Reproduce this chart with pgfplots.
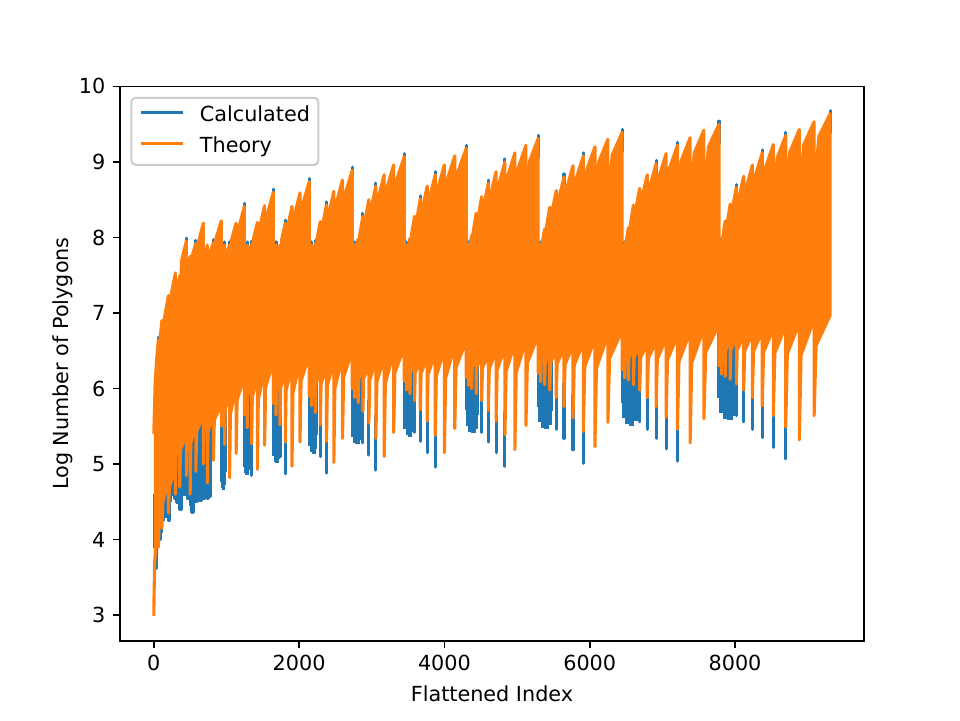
\documentclass[border=0pt]{standalone}
\usepackage{fontspec}
\setmainfont{DejaVu Sans}
\usepackage{pgfplots}
\pgfplotsset{compat=1.18}
\definecolor{mplblue}{HTML}{1F77B4}
\definecolor{mplorange}{HTML}{FF7F0E}
\begin{document}
\begin{tikzpicture}
\useasboundingbox (-0.8in,-0.528in) rectangle (5.6in,4.272in);
\begin{axis}[
  at={(0,0)}, anchor=south west,
  width=4.96in, height=3.696in, scale only axis,
  xmin=-465.5, xmax=9775.5, ymin=2.66, ymax=10.0,
  xtick={0,2000,4000,6000,8000}, ytick={3,4,5,6,7,8,9,10},
  scaled x ticks=false,
  /pgf/number format/1000 sep={},
  /pgf/number format/assume math mode=true,
  tick pos=left, tick align=outside, major tick length=3.5pt,
  tick style={black, line width=0.8pt},
  axis line style={line width=0.8pt},
  ticklabel style={font=\fontsize{10}{12}\selectfont},
  label style={font=\fontsize{10}{12}\selectfont},
  xlabel={Flattened Index}, ylabel={Log Number of Polygons},
  ylabel shift=-3.7pt,
  unbounded coords=jump,
  legend cell align=left,
  legend style={at={(0,1)}, anchor=north west, xshift=5pt, yshift=-5pt,
    draw=black!20, line width=1pt, rounded corners=2pt, fill=white,
    fill opacity=0.8, text opacity=1, inner xsep=4pt, inner ysep=3.9pt,
    row sep=5.5pt, column sep=7.5pt,
    font=\fontsize{10}{12}\selectfont,
    nodes={inner sep=0pt, text height=7.5pt, text depth=2pt}},
  legend image code/.code={\draw[#1, line width=1.5pt] (0pt,1.5pt) -- (20pt,1.5pt);},
]

% Calculated: lower tail of the first blocks
\addplot[forget plot, const plot, fill=mplblue, draw=mplblue, line width=1.5pt, line join=round] coordinates {
(15,4.6) (15,3.9) (22,3.62) (35,3.65) (42,3.95) (60,4.0) (87,4.09) (100,4.25) (132,4.36) (150,4.3)
(201,4.26) (210,4.5) (224,4.62) (260,4.6) (290,4.55) (315,4.49) (352,4.40) (380,4.6) (430,4.66)
(460,4.55) (500,4.45) (521,4.36) (540,4.5) (600,4.52) (659,4.55) (700,4.7) (733,4.55) (751,4.57)
(780,4.75) (780,6.0) (500,5.8) (300,5.6) (150,5.3) (60,5.0)
};

% Calculated: dense runs at the start of each block
\addplot[forget plot, const plot, fill=mplblue, draw=mplblue, line width=1.5pt] coordinates {
(930,5.92) (930,4.98) (934,4.78) (940,4.90) (945,4.70) (951,4.85) (958,4.68) (965,4.82) (971,4.74) (976,4.92) (981,5.92)};
\addplot[forget plot, const plot, fill=mplblue, draw=mplblue, line width=1.5pt] coordinates {
(1246,6.12) (1246,5.18) (1251,4.98) (1259,5.10) (1265,4.90) (1273,5.05) (1281,4.88) (1290,5.02) (1297,4.94) (1304,5.12) (1310,6.12)};
\addplot[forget plot, const plot, fill=mplblue, draw=mplblue, line width=1.5pt] coordinates {
(1645,6.22) (1645,5.33) (1651,5.13) (1661,5.25) (1669,5.05) (1678,5.20) (1688,5.03) (1699,5.17) (1708,5.09) (1716,5.27) (1724,6.22)};
\addplot[forget plot, const plot, fill=mplblue, draw=mplblue, line width=1.5pt] coordinates {
(2140,6.27) (2140,5.46) (2148,5.26) (2159,5.38) (2169,5.18) (2180,5.33) (2192,5.16) (2205,5.30) (2216,5.22) (2226,5.40) (2235,6.27)};
\addplot[forget plot, const plot, fill=mplblue, draw=mplblue, line width=1.5pt] coordinates {
(2732,6.32) (2732,5.58) (2741,5.38) (2755,5.50) (2766,5.30) (2780,5.45) (2795,5.28) (2810,5.42) (2823,5.34) (2835,5.52) (2846,6.32)};
\addplot[forget plot, const plot, fill=mplblue, draw=mplblue, line width=1.5pt] coordinates {
(3447,6.40) (3447,5.68) (3458,5.48) (3474,5.60) (3488,5.40) (3504,5.55) (3522,5.38) (3539,5.52) (3556,5.44) (3569,5.62) (3583,6.40)};
\addplot[forget plot, const plot, fill=mplblue, draw=mplblue, line width=1.5pt] coordinates {
(4300,6.47) (4300,5.73) (4313,5.53) (4332,5.65) (4347,5.45) (4366,5.60) (4387,5.43) (4407,5.57) (4426,5.49) (4442,5.67) (4458,6.47)};
\addplot[forget plot, const plot, fill=mplblue, draw=mplblue, line width=1.5pt] coordinates {
(5290,6.54) (5290,5.78) (5305,5.58) (5327,5.70) (5346,5.50) (5368,5.65) (5392,5.48) (5416,5.62) (5438,5.54) (5457,5.72) (5475,6.54)};
\addplot[forget plot, const plot, fill=mplblue, draw=mplblue, line width=1.5pt] coordinates {
(6446,6.62) (6446,5.83) (6463,5.63) (6489,5.75) (6510,5.55) (6535,5.70) (6563,5.53) (6591,5.67) (6616,5.59) (6638,5.77) (6659,6.62)};
\addplot[forget plot, const plot, fill=mplblue, draw=mplblue, line width=1.5pt] coordinates {
(7780,6.74) (7780,5.90) (7800,5.70) (7829,5.82) (7854,5.62) (7883,5.77) (7915,5.60) (7947,5.74) (7976,5.66) (8001,5.84) (8025,6.74)};

% Calculated: deeper minima and peak tips
\addplot[forget plot, mplblue, line width=1.5pt, line cap=round] coordinates {
(975,5.56) (975,4.84) (975,nan)
(1286,5.78) (1286,5.06) (1286,nan) (1346,5.57) (1346,4.85) (1346,nan)
(1682,5.95) (1682,5.23) (1682,nan) (1737,5.82) (1737,5.10) (1737,nan) (1810,5.59) (1810,4.87) (1810,nan)
(2174,6.07) (2174,5.35) (2174,nan) (2225,5.98) (2225,5.26) (2225,nan) (2292,5.82) (2292,5.10) (2292,nan) (2377,5.60) (2377,4.88) (2377,nan)
(2765,6.18) (2765,5.46) (2765,nan) (2813,6.11) (2813,5.39) (2813,nan) (2878,6.0) (2878,5.28) (2878,nan) (2960,5.84) (2960,5.12) (2960,nan) (3057,5.64) (3057,4.92) (3057,nan)
(3479,6.28) (3479,5.56) (3479,nan) (3526,6.23) (3526,5.51) (3526,nan) (3589,6.14) (3589,5.42) (3589,nan) (3668,6.02) (3668,5.30) (3668,nan) (3763,5.87) (3763,5.15) (3763,nan) (3874,5.68) (3874,4.96) (3874,nan)
(4330,6.34) (4330,5.62) (4330,nan) (4376,6.3) (4376,5.58) (4376,nan) (4437,6.23) (4437,5.51) (4437,nan) (4513,6.14) (4513,5.42) (4513,nan) (4605,6.01) (4605,5.29) (4605,nan) (4711,5.87) (4711,5.15) (4711,nan) (4833,5.69) (4833,4.97) (4833,nan)
(5326,6.39) (5326,5.67) (5326,nan) (5379,6.35) (5379,5.63) (5379,nan) (5450,6.28) (5450,5.56) (5450,nan) (5539,6.18) (5539,5.46) (5539,nan) (5646,6.06) (5646,5.34) (5646,nan) (5770,5.91) (5770,5.19) (5770,nan) (5913,5.73) (5913,5.01) (5913,nan)
(6481,6.44) (6481,5.72) (6481,nan) (6533,6.41) (6533,5.69) (6533,nan) (6602,6.35) (6602,5.63) (6602,nan) (6689,6.28) (6689,5.56) (6689,nan) (6792,6.18) (6792,5.46) (6792,nan) (6914,6.06) (6914,5.34) (6914,nan) (7052,5.92) (7052,5.20) (7052,nan) (7208,5.76) (7208,5.04) (7208,nan)
(7814,6.49) (7814,5.77) (7814,nan) (7865,6.46) (7865,5.74) (7865,nan) (7933,6.42) (7933,5.70) (7933,nan) (8018,6.36) (8018,5.64) (8018,nan) (8120,6.28) (8120,5.56) (8120,nan) (8239,6.18) (8239,5.46) (8239,nan) (8375,6.07) (8375,5.35) (8375,nan) (8528,5.94) (8528,5.22) (8528,nan) (8698,5.79) (8698,5.07) (8698,nan)
(63,6.39) (63,6.68) (63,nan) (448,7.70) (448,7.99) (448,nan) (578,7.67) (578,7.96) (578,nan) (820,7.68) (820,7.97) (820,nan)
(975,7.65) (975,7.94) (975,nan) (1043,7.65) (1043,7.94) (1043,nan) (1246,8.16) (1246,8.45) (1246,nan)
(1286,7.65) (1286,7.94) (1286,nan) (1346,7.66) (1346,7.95) (1346,nan) (1645,8.35) (1645,8.64) (1645,nan)
(1682,7.65) (1682,7.94) (1682,nan) (1810,7.94) (1810,8.23) (1810,nan) (2140,8.49) (2140,8.78) (2140,nan)
(2174,7.65) (2174,7.94) (2174,nan) (2225,7.67) (2225,7.96) (2225,nan) (2377,8.18) (2377,8.47) (2377,nan) (2732,8.64) (2732,8.93) (2732,nan)
(2765,7.65) (2765,7.94) (2765,nan) (2878,8.03) (2878,8.32) (2878,nan) (3057,8.43) (3057,8.72) (3057,nan) (3447,8.82) (3447,9.11) (3447,nan)
(3479,7.65) (3479,7.94) (3479,nan) (3668,8.26) (3668,8.55) (3668,nan) (3874,8.58) (3874,8.87) (3874,nan) (4300,8.93) (4300,9.22) (4300,nan)
(4330,7.65) (4330,7.94) (4330,nan) (4605,8.47) (4605,8.76) (4605,nan) (4833,8.75) (4833,9.04) (4833,nan) (5290,9.06) (5290,9.35) (5290,nan)
(5326,7.65) (5326,7.94) (5326,nan) (5646,8.55) (5646,8.84) (5646,nan) (5913,8.83) (5913,9.12) (5913,nan) (6446,9.14) (6446,9.43) (6446,nan)
(6481,7.65) (6481,7.94) (6481,nan) (6914,8.73) (6914,9.02) (6914,nan) (7208,8.97) (7208,9.26) (7208,nan) (7780,9.25) (7780,9.54) (7780,nan)
(7814,7.70) (7814,7.99) (7814,nan) (8018,8.41) (8018,8.70) (8018,nan) (8375,8.87) (8375,9.16) (8375,nan) (8698,9.10) (8698,9.39) (8698,nan) (9310,9.39) (9310,9.68)
};

% Theory: envelope of the oscillating series (upper edge left to right, lower edge right to left)
\addplot[forget plot, fill=mplorange, draw=mplorange, line width=1.5pt, line join=round] coordinates {
(0,5.4) (18,6.07) (40,6.4) (63,6.64) (63,6.05) (80,6.6) (111,6.9) (111,6.35) (140,6.9) (201,7.23) (201,6.7) (230,7.2) (297,7.53)
(297,7.0) (315,7.33) (357,7.49) (357,7.15) (384,7.7) (448,7.95)
(448,7.2) (464,7.58) (500,7.75) (500,7.3) (523,7.74) (578,7.92) (578,7.3) (609,7.92) (682,8.19)
(682,7.25) (698,7.71) (737,7.9) (737,7.4) (762,7.77) (820,7.93) (820,7.45) (853,7.98) (930,8.22)
(930,7.4) (943,7.75) (975,7.9) (975,7.45) (995,7.77) (1043,7.9) (1043,7.45) (1070,7.97) (1133,8.19) (1133,7.45) (1167,8.12) (1246,8.41)
(1246,7.4) (1258,7.75) (1286,7.9) (1286,7.45) (1304,7.77) (1346,7.91) (1346,7.45) (1370,7.98) (1426,8.20) (1426,7.45) (1456,8.13) (1525,8.42) (1525,7.6) (1561,8.3) (1645,8.60)
(1645,7.4) (1656,7.75) (1682,7.9) (1682,7.45) (1698,7.77) (1737,7.90) (1737,7.45) (1759,7.97) (1810,8.19) (1810,7.45) (1838,8.12) (1902,8.41) (1902,7.59) (1935,8.29) (2012,8.59) (2012,7.74) (2050,8.44) (2140,8.74)
(2140,7.4) (2150,7.75) (2174,7.9) (2174,7.45) (2189,7.78) (2225,7.92) (2225,7.45) (2245,7.98) (2292,8.21) (2292,7.45) (2318,8.14) (2377,8.43) (2377,7.61) (2407,8.31) (2478,8.61) (2478,7.76) (2514,8.46) (2597,8.76) (2597,7.89) (2638,8.59) (2732,8.89)
(2732,7.5) (2742,7.78) (2765,7.9) (2765,7.45) (2779,7.82) (2813,7.98) (2813,7.45) (2833,8.03) (2878,8.28) (2878,7.50) (2903,8.20) (2960,8.50) (2960,7.68) (2989,8.38) (3057,8.68) (3057,7.83) (3091,8.53) (3171,8.83) (3171,7.96) (3210,8.66) (3301,8.96) (3301,8.07) (3345,8.77) (3447,9.07)
(3447,7.5) (3457,7.78) (3479,7.9) (3479,7.45) (3493,7.83) (3526,7.99) (3526,7.45) (3545,8.03) (3589,8.28) (3589,7.51) (3613,8.21) (3668,8.51) (3668,7.68) (3697,8.38) (3763,8.68) (3763,7.83) (3796,8.53) (3874,8.83) (3874,7.96) (3912,8.66) (4000,8.96) (4000,8.08) (4043,8.78) (4142,9.08) (4142,8.18) (4189,8.88) (4300,9.18)
(4300,7.5) (4309,7.78) (4330,7.9) (4330,7.45) (4344,7.86) (4376,8.03) (4376,7.45) (4394,8.06) (4437,8.32) (4437,7.54) (4460,8.24) (4513,8.54) (4513,7.72) (4541,8.42) (4605,8.72) (4605,7.87) (4637,8.57) (4711,8.87) (4711,8.0) (4748,8.7) (4833,9.0) (4833,8.12) (4874,8.82) (4970,9.12) (4970,8.22) (5016,8.92) (5122,9.22) (5122,8.31) (5172,9.01) (5290,9.31)
(5290,7.55) (5301,7.8) (5326,7.9) (5326,7.45) (5342,7.91) (5379,8.11) (5379,7.45) (5400,8.12) (5450,8.40) (5450,7.62) (5477,8.32) (5539,8.62) (5539,7.80) (5571,8.50) (5646,8.80) (5646,7.95) (5683,8.65) (5770,8.95) (5770,8.08) (5813,8.78) (5913,9.08) (5913,8.20) (5961,8.90) (6072,9.20) (6072,8.30) (6125,9.00) (6250,9.30) (6250,8.39) (6309,9.09) (6446,9.39)
(6446,7.55) (6457,7.8) (6481,7.9) (6481,7.45) (6497,7.93) (6533,8.13) (6533,7.45) (6554,8.14) (6602,8.43) (6602,7.65) (6628,8.35) (6689,8.65) (6689,7.83) (6720,8.53) (6792,8.83) (6792,7.98) (6829,8.68) (6914,8.98) (6914,8.11) (6955,8.81) (7052,9.11) (7052,8.22) (7099,8.92) (7208,9.22) (7208,8.32) (7260,9.02) (7382,9.32) (7382,8.42) (7439,9.12) (7572,9.42) (7572,8.50) (7634,9.20) (7780,9.50)
(7780,7.6) (7790,7.83) (7814,7.95) (7814,7.45) (7829,7.99) (7865,8.22) (7865,7.45) (7885,8.14) (7933,8.44) (7933,7.66) (7959,8.36) (8018,8.66) (8018,7.81) (8049,8.51) (8120,8.81) (8120,7.96) (8156,8.66) (8239,8.96) (8239,8.12) (8280,8.82) (8375,9.12) (8375,8.23) (8421,8.93) (8528,9.23) (8528,8.35) (8579,9.05) (8698,9.35) (8698,8.43) (8754,9.13) (8885,9.43) (8885,8.53) (8946,9.23) (9089,9.53) (9089,8.64) (9155,9.34) (9310,9.64)
(9310,6.97) (9116,6.57) (9089,5.64) (9089,6.92) (8909,6.44) (8885,5.32) (8885,6.87) (8720,6.46) (8698,5.49) (8698,6.83) (8548,6.47) (8528,5.64) (8528,6.79) (8393,6.48) (8375,5.77) (8375,6.76) (8255,6.49) (8239,5.88) (8239,6.73) (8134,6.50) (8120,5.98) (8120,6.70) (8030,6.51) (8018,6.06) (8018,6.67) (7943,6.51) (7933,6.12) (7933,6.66) (7873,6.51) (7865,6.16) (7865,6.64) (7820,6.50) (7814,6.19) (7814,6.63) (7784,6.53) (7780,6.3)
(7780,6.85) (7597,6.48) (7572,5.60) (7572,6.80) (7405,6.34) (7382,5.28) (7382,6.75) (7229,6.36) (7208,5.46) (7208,6.70) (7071,6.38) (7052,5.62) (7052,6.66) (6931,6.39) (6914,5.76) (6914,6.62) (6807,6.40) (6792,5.88) (6792,6.59) (6701,6.41) (6689,5.98) (6689,6.56) (6612,6.41) (6602,6.05) (6602,6.54) (6541,6.41) (6533,6.11) (6533,6.52) (6487,6.41) (6481,6.14) (6481,6.51) (6450,6.43) (6446,6.25)
(6446,6.77) (6274,6.40) (6250,5.55) (6250,6.71) (6093,6.27) (6072,5.23) (6072,6.66) (5932,6.29) (5913,5.43) (5913,6.61) (5787,6.31) (5770,5.61) (5770,6.57) (5661,6.32) (5646,5.76) (5646,6.53) (5552,6.33) (5539,5.88) (5539,6.50) (5461,6.34) (5450,5.98) (5450,6.47) (5388,6.34) (5379,6.05) (5379,6.45) (5332,6.34) (5326,6.09) (5326,6.43) (5294,6.36) (5290,6.2)
(5290,6.70) (5142,6.34) (5122,5.51) (5122,6.64) (4988,6.21) (4970,5.19) (4970,6.59) (4849,6.23) (4833,5.39) (4833,6.54) (4726,6.25) (4711,5.57) (4711,6.50) (4618,6.26) (4605,5.71) (4605,6.46) (4524,6.27) (4513,5.84) (4513,6.43) (4446,6.28) (4437,5.93) (4437,6.40) (4383,6.28) (4376,6.0) (4376,6.38) (4336,6.28) (4330,6.04) (4330,6.36) (4304,6.30) (4300,6.15)
(4300,6.63) (4161,6.28) (4142,5.47) (4142,6.57) (4017,6.14) (4000,5.15) (4000,6.51) (3889,6.17) (3874,5.38) (3874,6.46) (3776,6.19) (3763,5.57) (3763,6.41) (3679,6.20) (3668,5.72) (3668,6.37) (3598,6.21) (3589,5.84) (3589,6.34) (3534,6.22) (3526,5.93) (3526,6.31) (3485,6.21) (3479,5.98) (3479,6.29) (3451,6.23) (3447,6.1)
(3447,6.55) (3319,6.21) (3301,5.42) (3301,6.48) (3187,6.07) (3171,5.10) (3171,6.41) (3071,6.09) (3057,5.34) (3057,6.36) (2972,6.11) (2960,5.54) (2960,6.31) (2888,6.13) (2878,5.70) (2878,6.27) (2821,6.13) (2813,5.81) (2813,6.24) (2771,6.13) (2765,5.88) (2765,6.22) (2736,6.15) (2732,6.0)
(2732,6.50) (2613,6.15) (2597,5.34) (2597,6.42) (2492,6.0) (2478,5.02) (2478,6.35) (2389,6.04) (2377,5.30) (2377,6.29) (2302,6.06) (2292,5.52) (2292,6.24) (2233,6.07) (2225,5.68) (2225,6.20) (2180,6.07) (2174,5.77) (2174,6.17) (2144,6.09) (2140,5.9)
(2140,6.45) (2027,6.10) (2012,5.29) (2012,6.36) (1915,5.94) (1902,4.97) (1902,6.28) (1821,5.98) (1810,5.29) (1810,6.22) (1746,6.01) (1737,5.52) (1737,6.17) (1689,6.01) (1682,5.65) (1682,6.13) (1649,6.03) (1645,5.8)
(1645,6.35) (1539,6.02) (1525,5.25) (1525,6.25) (1438,5.85) (1426,4.93) (1426,6.16) (1356,5.89) (1346,5.27) (1346,6.09) (1293,5.91) (1286,5.48) (1286,6.04) (1251,5.92) (1246,5.65)
(1246,6.15) (1147,5.85) (1133,5.14) (1133,6.03) (1054,5.66) (1043,4.82) (1043,5.93) (983,5.73) (975,5.26) (975,5.85) (935,5.75) (930,5.5)
(930,5.8) (833,5.58) (820,5.05) (820,5.7) (747,5.42) (737,4.75) (737,5.6) (689,5.42) (682,5.0)
(682,5.65) (590,5.43) (578,4.9) (578,5.55) (509,5.27) (500,4.6) (500,5.45) (454,5.27) (448,4.85)
(448,5.4) (368,5.19) (357,4.7) (357,5.3) (304,5.09) (297,4.6)
(297,4.95) (215,4.7) (201,4.35) (201,4.8) (125,4.5) (111,4.15) (111,4.5) (75,4.3) (63,3.9) (63,4.2) (30,3.95) (12,3.7) (4,3.3) (0,2.99)
};

\addlegendimage{mplblue}
\addlegendentry{Calculated}
\addlegendimage{mplorange}
\addlegendentry{Theory}
\end{axis}
\end{tikzpicture}
\end{document}
